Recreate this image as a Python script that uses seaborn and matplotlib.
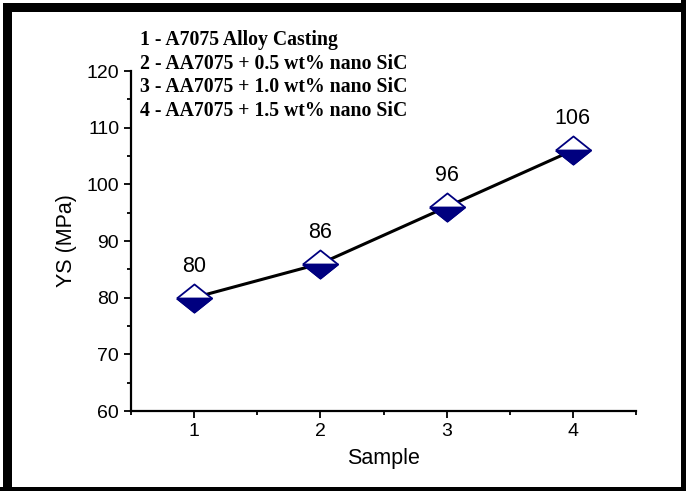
import matplotlib
matplotlib.use("Agg")
import matplotlib.pyplot as plt
import seaborn as sns
import pandas as pd
from matplotlib.patches import Rectangle
from matplotlib.ticker import MultipleLocator

# data
samples = [1, 2, 3, 4]
ys_mpa = [80, 86, 96, 106]
legend_lines = [
    "1 - A7075 Alloy Casting",
    "2 - AA7075 + 0.5 wt% nano SiC",
    "3 - AA7075 + 1.0 wt% nano SiC",
    "4 - AA7075 + 1.5 wt% nano SiC",
]

df = pd.DataFrame({"Sample": samples, "YS": ys_mpa})

sns.set_style("ticks")
plt.rcParams["font.family"] = ["Liberation Sans", "DejaVu Sans"]
plt.rcParams["text.color"] = "black"
plt.rcParams["axes.labelcolor"] = "black"
plt.rcParams["xtick.color"] = "black"
plt.rcParams["ytick.color"] = "black"
plt.rcParams["axes.edgecolor"] = "black"

fig = plt.figure(figsize=(6.86, 4.91), dpi=100)
ax = fig.add_axes([131 / 686, 1 - 411 / 491, 505 / 686, 340 / 491])

navy = "#00007f"
sns.lineplot(data=df, x="Sample", y="YS", ax=ax, color="black", linewidth=2.2,
             zorder=2)
# half filled diamonds
diamond = [(-1, 0), (0, 0.8), (1, 0), (0, -0.8), (-1, 0)]
lower = [(-1, 0), (1, 0), (0, -0.8), (-1, 0)]
ax.scatter(df["Sample"], df["YS"], marker=diamond, s=640, facecolor="white",
           edgecolor=navy, linewidth=1.3, zorder=3)
ax.scatter(df["Sample"], df["YS"], marker=lower, s=640, facecolor=navy,
           edgecolor=navy, linewidth=1.3, zorder=4)

for xv, yv in zip(samples, ys_mpa):
    ax.annotate(str(yv), (xv, yv), xytext=(0, 15), textcoords="offset points",
                ha="center", va="bottom", fontsize=15.5)

ax.set_xlim(0.5, 4.5)
ax.set_ylim(60, 120)
ax.set_xticks(samples)
ax.xaxis.set_minor_locator(MultipleLocator(0.5))
ax.yaxis.set_major_locator(MultipleLocator(10))
ax.yaxis.set_minor_locator(MultipleLocator(5))
ax.tick_params(which="major", length=5, width=1.3, labelsize=14, direction="out")
ax.tick_params(which="minor", length=3, width=1.3, direction="out")
for s in ["left", "bottom"]:
    ax.spines[s].set_linewidth(1.6)
sns.despine(ax=ax)

ax.set_xlabel("Sample", fontsize=15.5, labelpad=6)
ax.set_ylabel("YS (MPa)", fontsize=15.5, labelpad=7)

for i, line in enumerate(legend_lines):
    fig.text(140 / 686, 1 - (40 + i * 23.7) / 491, line, family="Liberation Serif",
             fontweight="bold", fontsize=14.2, va="center", ha="left")

# thick black frame around the figure
W, H = 686, 491
frame = [(3, 3, 9, H), (3, 3, W, 9), (681, 0, 10, H), (0, 487, W, 10)]
for x0, y0, w, h in frame:
    fig.patches.append(Rectangle((x0 / W, 1 - (y0 + h) / H), w / W, h / H,
                                 transform=fig.transFigure, facecolor="black",
                                 edgecolor="none", zorder=10))

fig.savefig("out.png", dpi=100)
